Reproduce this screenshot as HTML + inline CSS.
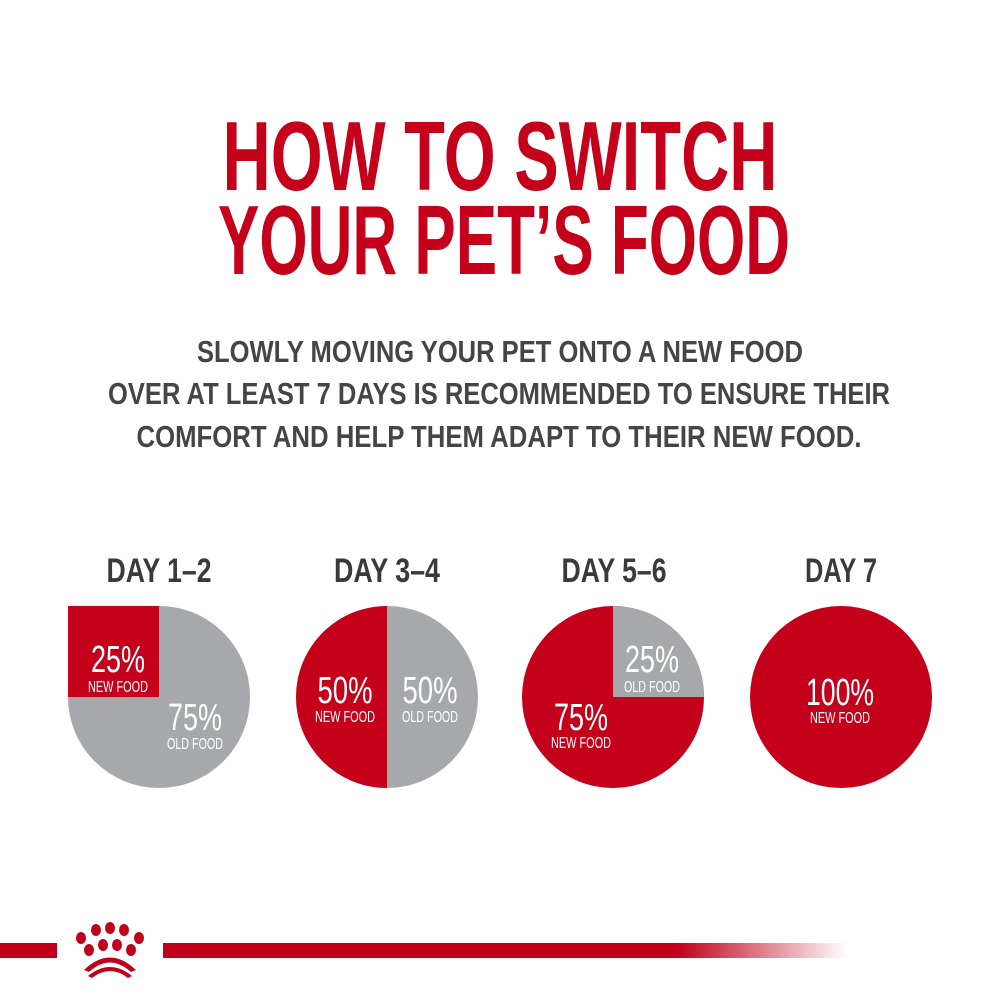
<!DOCTYPE html>
<html><head><meta charset="utf-8"><style>
html,body{margin:0;padding:0;background:#fff;}
svg{display:block}
text{font-family:"Liberation Sans Narrow","Liberation Sans",sans-serif;font-weight:bold;}
text.n{font-weight:normal}
</style></head><body>
<svg width="1000" height="1000" viewBox="0 0 1000 1000">
<defs>
<linearGradient id="fade" x1="0" x2="1">
<stop offset="0" stop-color="#c0001a"/><stop offset="0.75" stop-color="#c0001a"/><stop offset="1" stop-color="#c0001a" stop-opacity="0"/>
</linearGradient>
</defs>
<rect width="1000" height="1000" fill="#fff"/>
<g fill="#c4001a" font-size="98" text-anchor="middle">
<text x="500" y="190" textLength="555" lengthAdjust="spacingAndGlyphs">HOW TO SWITCH</text>
<text x="504" y="274" textLength="572" lengthAdjust="spacingAndGlyphs">YOUR PET’S FOOD</text>
</g>
<g fill="#454545" font-size="31" text-anchor="middle">
<text x="500" y="362" textLength="606" lengthAdjust="spacingAndGlyphs">SLOWLY MOVING YOUR PET ONTO A NEW FOOD</text>
<text x="499" y="404" textLength="782" lengthAdjust="spacingAndGlyphs">OVER AT LEAST 7 DAYS IS RECOMMENDED TO ENSURE THEIR</text>
<text x="499" y="447" textLength="725" lengthAdjust="spacingAndGlyphs">COMFORT AND HELP THEM ADAPT TO THEIR NEW FOOD.</text>
</g>
<g fill="#3a3a3a" font-size="34" text-anchor="middle" lengthAdjust="spacingAndGlyphs">
<text x="159" y="582" textLength="105" lengthAdjust="spacingAndGlyphs">DAY 1–2</text>
<text x="387" y="582" textLength="106" lengthAdjust="spacingAndGlyphs">DAY 3–4</text>
<text x="614" y="582" textLength="105" lengthAdjust="spacingAndGlyphs">DAY 5–6</text>
<text x="841" y="582" textLength="72" lengthAdjust="spacingAndGlyphs">DAY 7</text>
</g>
<circle cx="159" cy="697" r="91" fill="#a7a8ab"/>
<rect x="68" y="606" width="91" height="91" fill="#c4001a"/>
<circle cx="387" cy="697" r="91" fill="#a7a8ab"/>
<path d="M387 606 A91 91 0 0 0 387 788 Z" fill="#c4001a"/>
<circle cx="613" cy="697" r="91" fill="#c4001a"/>
<path d="M613 697 L613 606 A91 91 0 0 1 704 697 Z" fill="#a7a8ab"/>
<circle cx="841" cy="697" r="91" fill="#c4001a"/>
<g fill="#fff" text-anchor="middle">
<text class="n" x="118" y="672" font-size="38" textLength="54" lengthAdjust="spacingAndGlyphs">25%</text>
<text class="n" x="118" y="692" font-size="16" textLength="60" lengthAdjust="spacingAndGlyphs">NEW FOOD</text>
<text class="n" x="195" y="730" font-size="38" textLength="54" lengthAdjust="spacingAndGlyphs">75%</text>
<text class="n" x="195" y="749" font-size="16" textLength="56" lengthAdjust="spacingAndGlyphs">OLD FOOD</text>
<text class="n" x="345" y="703" font-size="38" textLength="55" lengthAdjust="spacingAndGlyphs">50%</text>
<text class="n" x="345" y="722" font-size="16" textLength="60" lengthAdjust="spacingAndGlyphs">NEW FOOD</text>
<text class="n" x="430" y="703" font-size="38" textLength="55" lengthAdjust="spacingAndGlyphs">50%</text>
<text class="n" x="430" y="722" font-size="16" textLength="56" lengthAdjust="spacingAndGlyphs">OLD FOOD</text>
<text class="n" x="652" y="672" font-size="38" textLength="54" lengthAdjust="spacingAndGlyphs">25%</text>
<text class="n" x="652" y="692" font-size="16" textLength="56" lengthAdjust="spacingAndGlyphs">OLD FOOD</text>
<text class="n" x="581" y="730" font-size="38" textLength="54" lengthAdjust="spacingAndGlyphs">75%</text>
<text class="n" x="581" y="748" font-size="16" textLength="60" lengthAdjust="spacingAndGlyphs">NEW FOOD</text>
<text class="n" x="840" y="705" font-size="38" textLength="68" lengthAdjust="spacingAndGlyphs">100%</text>
<text class="n" x="840" y="723" font-size="16" textLength="60" lengthAdjust="spacingAndGlyphs">NEW FOOD</text>
</g>
<rect x="0" y="943" width="57" height="15" fill="#c0001a"/>
<rect x="163" y="943" width="685" height="15" fill="url(#fade)"/>
<g fill="#c0001a">
<ellipse cx="81" cy="938" rx="5" ry="6"/>
<ellipse cx="96" cy="930" rx="5" ry="6"/>
<ellipse cx="110" cy="928" rx="5" ry="6"/>
<ellipse cx="124" cy="930" rx="5" ry="6"/>
<ellipse cx="139" cy="938" rx="5" ry="6"/>
<ellipse cx="89" cy="950" rx="5" ry="6"/>
<ellipse cx="103" cy="945" rx="5" ry="6"/>
<ellipse cx="117" cy="945" rx="5" ry="6"/>
<ellipse cx="131" cy="950" rx="5" ry="6"/>
<path d="M84 970 Q110 945 136 970 L131 972 Q110 953 89 972 Z"/>
<path d="M88 976 Q110 958 132 976 L128 978 Q110 964 92 978 Z"/>
</g>
</svg>
</body></html>
